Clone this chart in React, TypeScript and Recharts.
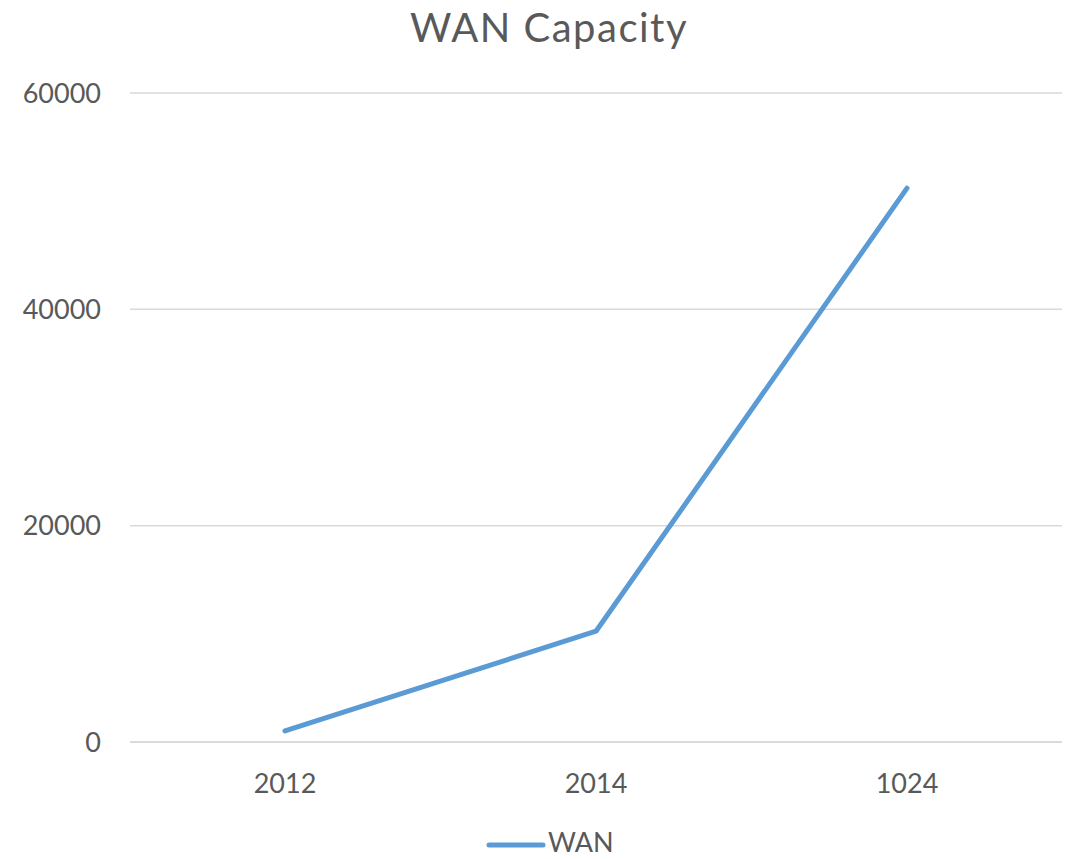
import React from "react";
import { LineChart, Line, XAxis, YAxis, CartesianGrid } from "recharts";

// Years as labelled in the source (the last one really reads "1024").
const years = ["2012", "2014", "1024"];
const wanCapacity = [1024, 10240, 51200];
const yTicks = [0, 20000, 40000, 60000];

const data = years.map((year, i) => ({ year, WAN: wanCapacity[i] }));

const FONT = "Lato, 'Open Sans', sans-serif";
const TEXT = "#595959";
const BLUE = "#5B9BD5";

export default function App() {
  return (
    <div style={{ position: "fixed", top: 0, left: 0, width: 1069, height: 859, background: "#fff", overflow: "hidden" }}>
      <div
        style={{
          position: "absolute",
          top: 3,
          left: 0,
          width: 1098,
          textAlign: "center",
          fontFamily: FONT,
          fontSize: 40,
          letterSpacing: 1.5,
          color: TEXT,
        }}
      >
        WAN Capacity
      </div>
      <LineChart width={1069} height={859} data={data} margin={{ top: 93, right: 7, bottom: 87, left: 0 }}>
        <CartesianGrid vertical={false} stroke="#D9D9D9" strokeWidth={1.5} />
        <XAxis
          dataKey="year"
          height={30}
          padding={{ left: 155, right: 155 }}
          axisLine={{ stroke: "#D9D9D9", strokeWidth: 1.5 }}
          tickLine={false}
          tickSize={0}
          tickMargin={32}
          tick={{ fontFamily: FONT, fontSize: 27, fill: TEXT }}
        />
        <YAxis
          width={130}
          domain={[0, 60000]}
          ticks={yTicks}
          axisLine={false}
          tickLine={false}
          tickSize={0}
          tickMargin={29}
          tick={{ fontFamily: FONT, fontSize: 27, fill: TEXT }}
        />
        <Line
          type="linear"
          dataKey="WAN"
          stroke={BLUE}
          strokeWidth={5}
          strokeLinecap="round"
          strokeLinejoin="round"
          dot={false}
          isAnimationActive={false}
        />
      </LineChart>
      <div style={{ position: "absolute", left: 486, top: 831, height: 22, display: "flex", alignItems: "center" }}>
        <svg width={60} height={22}>
          <line x1={3} y1={14} x2={57} y2={14} stroke={BLUE} strokeWidth={5} strokeLinecap="round" />
        </svg>
        <span style={{ fontFamily: FONT, fontSize: 27, lineHeight: "22px", color: TEXT, marginLeft: 2 }}>WAN</span>
      </div>
    </div>
  );
}
